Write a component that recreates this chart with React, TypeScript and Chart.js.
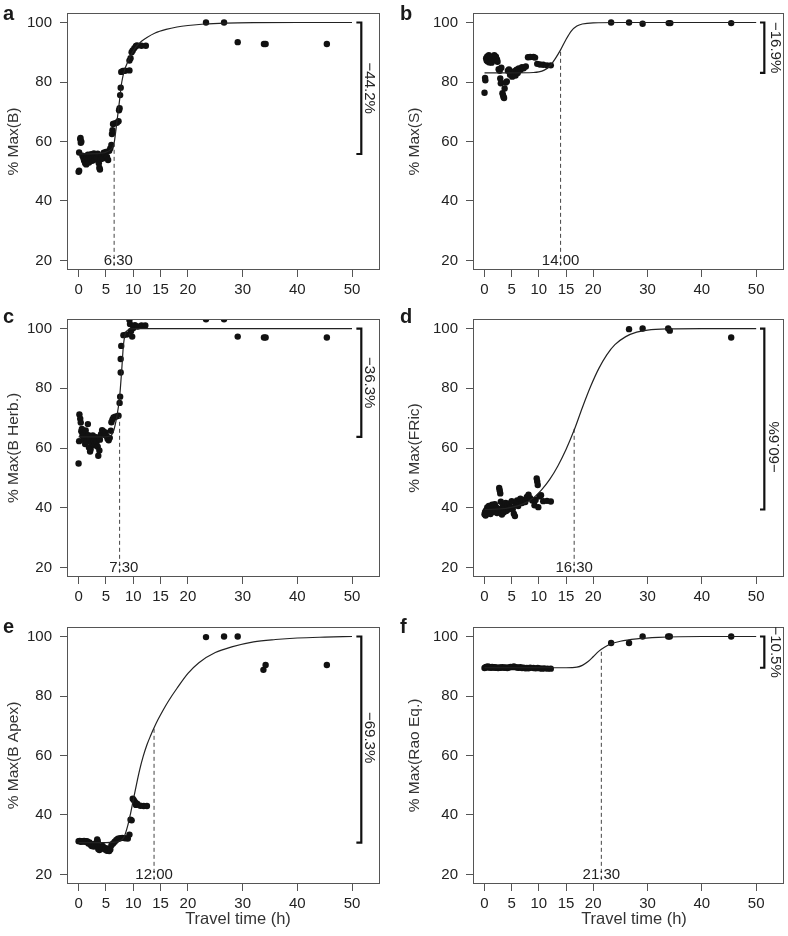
import React, { useEffect, useRef } from "react";
import { Chart, registerables } from "chart.js";

Chart.register(...registerables);

const FONT = "'Liberation Sans', Arial, Helvetica, sans-serif";

// ---- shared axis ticks ----
const xTicks = [0, 5, 10, 15, 20, 30, 40, 50];
const yTicks = [20, 40, 60, 80, 100];

// ---- panel a: % Max(B) ----
const aX = [0.0, 0.1, 0.1, 0.3, 0.35, 0.4, 0.5, 0.7, 0.9, 1.0, 1.1, 1.2, 1.3, 1.4, 1.5, 1.6, 1.7, 1.8, 1.9, 2.0, 2.2, 2.3, 2.5, 2.6, 2.8, 2.9, 3.0, 3.2, 3.3, 3.5, 3.7, 3.8, 3.9, 4.0, 4.2, 4.4, 4.6, 4.8, 5.0, 5.2, 5.4, 5.6, 5.8, 6.0, 6.1, 6.2, 6.3, 6.6, 7.0, 7.3, 7.4, 7.5, 7.6, 7.7, 7.8, 8.1, 8.5, 9.3, 9.3, 9.5, 9.7, 9.9, 10.2, 10.5, 10.7, 11.5, 12.3, 23.3, 26.6, 29.1, 33.9, 34.2, 45.4];
const aY = [49.8, 50.2, 56.3, 60.8, 61.2, 59.6, 59.9, 55.2, 54.4, 53.6, 55.0, 52.7, 53.9, 52.3, 54.8, 53.2, 55.6, 54.1, 52.9, 55.3, 54.0, 55.7, 53.5, 54.6, 56.0, 54.8, 53.9, 55.4, 54.6, 55.9, 52.7, 51.2, 50.6, 54.0, 55.2, 54.3, 56.2, 55.6, 56.5, 54.8, 53.8, 56.9, 57.7, 58.8, 62.5, 63.8, 65.9, 66.1, 66.3, 66.8, 70.5, 71.2, 75.6, 78.1, 83.4, 83.7, 83.8, 83.9, 87.2, 88.0, 90.0, 90.6, 91.4, 92.1, 92.3, 92.2, 92.2, 100, 100, 93.4, 92.8, 92.8, 92.8];
const aCurveX = [0, 4, 5.5, 6.2, 6.5, 6.8, 7.1, 7.5, 7.9, 8.4, 9, 9.7, 10.5, 11.5, 12.5, 14, 16, 18, 20, 23, 27, 32, 40, 50];
const aCurveY = [55.8, 56.0, 56.8, 58.0, 59.5, 63.5, 68.0, 74.0, 80.0, 84.0, 86.8, 89.5, 91.8, 93.7, 95.0, 96.5, 97.7, 98.5, 99.0, 99.5, 99.8, 99.95, 100, 100];

// ---- panel b: % Max(S) ----
const bX = [0.0, 0.1, 0.15, 0.3, 0.4, 0.5, 0.6, 0.7, 0.8, 0.9, 1.0, 1.1, 1.2, 1.3, 1.4, 1.6, 1.8, 1.9, 2.1, 2.3, 2.4, 2.6, 2.8, 2.9, 3.0, 3.1, 3.3, 3.4, 3.5, 3.6, 3.7, 3.9, 4.1, 4.3, 4.5, 4.7, 4.9, 5.1, 5.3, 5.5, 5.7, 5.9, 6.1, 6.3, 6.6, 6.9, 7.2, 7.6, 8.0, 8.4, 9.0, 9.3, 9.7, 10.2, 10.8, 11.5, 12.2, 23.3, 26.6, 29.1, 33.9, 34.2, 45.4];
const bY = [76.4, 81.4, 80.6, 88.0, 87.2, 88.6, 86.9, 87.8, 89.0, 86.6, 87.5, 88.4, 87.0, 86.5, 87.9, 88.2, 89.0, 87.3, 88.5, 87.6, 86.8, 84.3, 83.8, 81.2, 79.6, 84.8, 76.2, 75.6, 75.0, 74.6, 77.8, 79.8, 80.2, 83.8, 84.2, 82.4, 83.2, 81.8, 82.8, 83.6, 82.2, 84.1, 83.0, 84.6, 84.0, 85.0, 84.6, 85.2, 88.3, 88.4, 88.4, 88.2, 86.1, 85.9, 85.8, 85.6, 85.6, 100, 100, 99.6, 99.8, 99.8, 99.8];
const bCurveX = [0, 5, 9, 10, 11, 12, 13, 14, 15, 16, 17, 18, 20, 25, 50];
const bCurveY = [83.1, 83.1, 83.2, 83.4, 84.0, 85.3, 87.8, 90.8, 94.3, 97.2, 98.8, 99.5, 99.9, 100, 100];

// ---- panel c: % Max(B Herb.) ----
const cX = [0.0, 0.1, 0.15, 0.3, 0.4, 0.5, 0.6, 0.7, 0.8, 0.9, 1.0, 1.1, 1.2, 1.3, 1.4, 1.5, 1.7, 1.8, 1.9, 2.0, 2.1, 2.2, 2.4, 2.5, 2.6, 2.8, 2.9, 3.0, 3.2, 3.3, 3.5, 3.6, 3.8, 3.9, 4.1, 4.3, 4.5, 4.7, 4.9, 5.1, 5.3, 5.5, 5.7, 5.9, 6.0, 6.2, 6.4, 6.7, 7.0, 7.3, 7.5, 7.6, 7.7, 7.7, 7.8, 8.2, 8.8, 9.3, 9.4, 9.6, 9.8, 10.0, 10.3, 10.8, 11.5, 12.2, 23.3, 26.6, 29.1, 33.9, 34.2, 45.4];
const cY = [54.8, 62.3, 71.2, 69.8, 68.5, 65.6, 66.4, 64.2, 65.2, 63.0, 64.8, 62.6, 61.3, 65.9, 63.5, 62.1, 68.0, 64.3, 60.2, 62.9, 58.8, 59.6, 61.8, 63.4, 64.2, 62.3, 60.9, 61.5, 63.6, 62.0, 60.4, 57.4, 59.2, 62.8, 64.6, 66.0, 65.6, 64.4, 65.2, 64.0, 63.1, 62.6, 63.4, 65.8, 68.6, 69.6, 70.2, 70.5, 70.6, 70.8, 75.1, 77.2, 85.3, 89.8, 94.2, 97.8, 98.0, 102.9, 101.5, 99.2, 97.3, 100.2, 101.1, 100.7, 101.0, 101.0, 103.1, 103.1, 97.3, 97.0, 97.0, 97.0];
const cCurveX = [0, 4, 5.5, 6.3, 7.0, 7.5, 7.9, 8.2, 8.5, 9.0, 9.5, 10.5, 50];
const cCurveY = [63.7, 63.7, 63.9, 65.2, 70.6, 77.0, 86.5, 94.5, 98.0, 99.5, 99.9, 100, 100];

// ---- panel d: % Max(FRic) ----
const dX = [0.0, 0.1, 0.2, 0.3, 0.4, 0.5, 0.6, 0.7, 0.8, 0.9, 1.0, 1.1, 1.2, 1.3, 1.4, 1.5, 1.6, 1.8, 1.9, 2.0, 2.2, 2.3, 2.5, 2.7, 2.8, 2.9, 3.0, 3.1, 3.2, 3.4, 3.5, 3.7, 3.9, 4.0, 4.2, 4.4, 4.6, 4.8, 5.0, 5.2, 5.4, 5.6, 5.8, 6.0, 6.2, 6.4, 6.6, 6.9, 7.2, 7.5, 7.8, 8.1, 8.4, 8.8, 9.2, 9.4, 9.6, 9.7, 9.8, 9.9, 10.1, 10.4, 10.8, 11.5, 12.2, 26.6, 29.1, 33.8, 34.1, 45.4];
const dY = [37.8, 38.6, 37.4, 39.2, 38.0, 40.1, 38.8, 39.6, 40.6, 38.4, 39.8, 37.9, 40.2, 39.1, 41.0, 38.6, 40.4, 39.3, 41.2, 38.9, 40.0, 38.2, 39.7, 46.6, 45.8, 44.8, 42.0, 39.0, 37.7, 40.4, 38.4, 39.8, 41.6, 38.9, 40.8, 39.4, 41.4, 40.2, 42.2, 39.6, 38.0, 37.2, 41.0, 42.4, 40.6, 41.8, 43.0, 41.6, 42.6, 41.9, 43.6, 44.4, 43.2, 42.4, 40.8, 42.6, 49.8, 48.8, 47.6, 40.2, 43.8, 44.2, 42.2, 42.3, 42.1, 99.8, 100, 100, 99.3, 97.0];
const dCurveX = [0, 4, 7, 9, 10.5, 12, 13.5, 15, 16.5, 18, 19.5, 21, 22.5, 24, 26, 28, 30, 34, 40, 50];
const dCurveY = [39.4, 39.8, 41.2, 43.3, 46.0, 49.5, 54.0, 59.5, 66.0, 73.5, 80.5, 86.5, 91.2, 94.6, 97.3, 98.8, 99.5, 99.9, 100, 100];

// ---- panel e: % Max(B Apex) ----
const eX = [0.0, 0.2, 0.4, 0.6, 0.8, 1.0, 1.2, 1.4, 1.6, 1.8, 2.0, 2.2, 2.4, 2.6, 2.8, 3.0, 3.2, 3.4, 3.5, 3.6, 3.8, 4.0, 4.2, 4.4, 4.6, 4.8, 5.0, 5.2, 5.4, 5.6, 5.8, 6.0, 6.3, 6.6, 6.9, 7.2, 7.6, 8.0, 8.5, 9.0, 9.3, 9.5, 9.7, 9.9, 10.1, 10.3, 10.5, 10.7, 11.3, 11.9, 12.5, 23.3, 26.6, 29.1, 33.8, 34.2, 45.4];
const eY = [31.2, 31.3, 31.0, 31.2, 31.1, 31.3, 31.0, 31.2, 31.1, 30.4, 30.8, 30.0, 29.6, 30.2, 29.4, 29.8, 30.6, 31.8, 31.2, 28.6, 28.2, 29.4, 28.8, 29.6, 29.0, 28.4, 28.8, 28.0, 28.6, 27.9, 28.4, 29.8, 30.4, 31.0, 31.6, 32.0, 32.2, 32.3, 32.2, 32.1, 33.4, 38.4, 38.2, 45.5, 45.0, 44.4, 43.4, 43.8, 43.1, 43.0, 43.0, 99.8, 100, 100, 88.8, 90.4, 90.4];
const eCurveX = [0, 5, 7.5, 8.3, 9, 9.5, 10, 10.6, 11.2, 11.8, 12.5, 13.2, 13.8, 14.5, 15.5, 16.5, 18, 20, 22, 25, 28, 32, 36, 40, 45, 50];
const eCurveY = [30.7, 30.7, 31.2, 32.5, 36.5, 40.5, 45.0, 50.4, 55.4, 59.6, 63.6, 66.8, 69.3, 72.0, 75.4, 78.5, 82.6, 87.6, 91.2, 94.6, 96.5, 98.2, 99.0, 99.5, 99.8, 100];

// ---- panel f: % Max(Rao Eq.) ----
const fX = [0.0, 0.15, 0.3, 0.45, 0.6, 0.75, 0.9, 1.05, 1.2, 1.4, 1.6, 1.8, 2.0, 2.2, 2.5, 2.8, 3.0, 3.3, 3.6, 3.9, 4.2, 4.5, 4.8, 5.1, 5.4, 5.7, 6.0, 6.3, 6.6, 6.9, 7.2, 7.5, 7.8, 8.1, 8.4, 9.0, 9.4, 9.8, 10.2, 10.6, 11.0, 11.6, 12.2, 23.3, 26.6, 29.1, 33.8, 34.1, 45.4];
const fY = [89.4, 89.6, 89.8, 89.7, 89.9, 89.6, 89.8, 89.7, 89.5, 89.8, 89.6, 89.7, 89.5, 89.6, 89.4, 89.6, 89.5, 89.7, 89.5, 89.6, 89.4, 89.6, 89.8, 89.7, 89.9, 89.7, 89.6, 89.5, 89.7, 89.4, 89.5, 89.3, 89.4, 89.3, 89.5, 89.4, 89.3, 89.4, 89.3, 89.2, 89.3, 89.2, 89.2, 97.8, 97.8, 100, 100, 100, 100];
const fCurveX = [0, 15, 17, 18, 19, 20, 21, 22, 23, 25, 28, 32, 40, 50];
const fCurveY = [89.5, 89.5, 89.7, 90.3, 91.5, 93.2, 95.0, 96.3, 97.3, 98.4, 99.2, 99.7, 100, 100];

// ---- per-panel annotations ----
const panelLetters = ["a", "b", "c", "d", "e", "f"];
const yTitles = ["% Max(B)", "% Max(S)", "% Max(B Herb.)", "% Max(FRic)", "% Max(B Apex)", "% Max(Rao Eq.)"];
const breakTimes = [6.5, 14, 7.5, 16.5, 13.8, 21.5];
const breakLabels = ["6:30", "14:00", "7:30", "16:30", "12:00", "21:30"];
const breakTops = [59, 90.3, 70.3, 66.9, 69.2, 95.9];
const dropPct = [44.2, 16.9, 36.3, 60.6, 69.3, 10.5];
const dropLabels = ["\u221244.2%", "\u221216.9%", "\u221236.3%", "\u221260.6%", "\u221269.3%", "\u221210.5%"];
const dropLabelCenters = [77.9, 91.55, 81.85, 60.3, 66.0, 94.75];
const xTitle = "Travel time (h)";

const pointSets = [
  [aX, aY], [bX, bY], [cX, cY], [dX, dY], [eX, eY], [fX, fY],
];
const curveSets = [
  [aCurveX, aCurveY], [bCurveX, bCurveY], [cCurveX, cCurveY],
  [dCurveX, dCurveY], [eCurveX, eCurveY], [fCurveX, fCurveY],
];

// ---- layout (page pixels) ----
const COLS = [
  { left: 0, width: 394, boxL: 67, boxR: 380, titleX: 14, letterX: 3, brX1: 51.7, brX0: 50.8, pctX: 53.1, xTitleX: 238 },
  { left: 394, width: 394, boxL: 473, boxR: 786, titleX: 21, letterX: 6, brX1: 51.5, brX0: 50.7, pctX: 53.4, xTitleX: 240 },
];
const ROWS = [
  { top: 0, height: 300, boxT: 13, boxB: 270, letterY: 20 },
  { top: 300, height: 310, boxT: 319, boxB: 577, letterY: 23 },
  { top: 610, height: 326, boxT: 627, boxB: 884, letterY: 23 },
];

const decorPlugin = {
  id: "decor",
  afterDraw(chart: any, _args: any, opts: any) {
    const i: number = opts.idx;
    const col = COLS[i % 2];
    const row = ROWS[Math.floor(i / 2)];
    const { ctx, chartArea: ca } = chart;
    const xs = chart.scales.x;
    const ys = chart.scales.y;
    ctx.save();
    // box
    ctx.strokeStyle = "#555";
    ctx.lineWidth = 1;
    ctx.strokeRect(Math.round(ca.left) + 0.5, Math.round(ca.top) + 0.5,
      Math.round(ca.right - ca.left) - 1, Math.round(ca.bottom - ca.top) - 1);

    ctx.fillStyle = "#1a1a1a";
    // panel letter
    ctx.font = `bold 20px ${FONT}`;
    ctx.textAlign = "left";
    ctx.textBaseline = "alphabetic";
    ctx.fillText(panelLetters[i], col.letterX, row.letterY);

    // y title
    ctx.font = `15.5px ${FONT}`;
    ctx.save();
    ctx.translate(col.titleX, (ca.top + ca.bottom) / 2);
    ctx.rotate(-Math.PI / 2);
    ctx.textAlign = "center";
    ctx.textBaseline = "middle";
    ctx.fillStyle = "#333";
    ctx.fillText(yTitles[i], 0, 0);
    ctx.restore();

    // x title on bottom row
    if (Math.floor(i / 2) === 2) {
      ctx.save();
      ctx.font = `16.5px ${FONT}`;
      ctx.textAlign = "center";
      ctx.textBaseline = "middle";
      ctx.fillStyle = "#333";
      ctx.fillText(xTitle, col.xTitleX, ca.bottom + 35);
      ctx.restore();
    }

    // break label (colon aligned with dashed line)
    ctx.font = `15px ${FONT}`;
    const label = breakLabels[i];
    const px = xs.getPixelForValue(breakTimes[i]);
    const py = ys.getPixelForValue(20);
    const pre = label.split(":")[0];
    const w1 = ctx.measureText(pre).width;
    const wc = ctx.measureText(":").width;
    ctx.textAlign = "left";
    ctx.textBaseline = "middle";
    ctx.fillStyle = "#222";
    ctx.fillText(label, px - w1 - wc / 2, py);

    // drop percentage label
    const tx = xs.getPixelForValue(col.pctX);
    const ty = ys.getPixelForValue(dropLabelCenters[i]);
    ctx.save();
    ctx.translate(tx, ty);
    ctx.rotate(i === 3 ? -Math.PI / 2 : Math.PI / 2);
    ctx.textAlign = "center";
    ctx.textBaseline = "middle";
    ctx.fillText(dropLabels[i], 0, 0);
    ctx.restore();

    ctx.restore();
  },
};

function Panel({ idx }: { idx: number }) {
  const ref = useRef<HTMLCanvasElement | null>(null);
  const col = COLS[idx % 2];
  const row = ROWS[Math.floor(idx / 2)];

  useEffect(() => {
    if (!ref.current) return;
    const [px, py] = pointSets[idx];
    const [cx, cy] = curveSets[idx];
    const pts = px.map((x, k) => ({ x, y: py[k] }));
    const curve = cx.map((x, k) => ({ x, y: cy[k] }));
    const t = breakTimes[idx];
    const dashed = [{ x: t, y: 18.2 }, { x: t, y: breakTops[idx] }];
    const low = 100 - dropPct[idx];
    const bracket = [
      { x: col.brX0, y: 100 }, { x: col.brX1, y: 100 },
      { x: col.brX1, y: low }, { x: col.brX0, y: low },
    ];
    const yAxisW = col.boxL - col.left;
    const padRight = col.left + col.width - col.boxR;
    const padTop = row.boxT - row.top;
    const xAxisH = row.top + row.height - row.boxB;

    const chart = new Chart(ref.current, {
      type: "scatter",
      data: {
        datasets: [
          {
            data: curve, showLine: true, borderColor: "#222", borderWidth: 1.2,
            pointRadius: 0, cubicInterpolationMode: "monotone", fill: false,
          },
          {
            data: dashed, showLine: true, borderColor: "#444", borderWidth: 1,
            borderDash: [4, 3], pointRadius: 0, fill: false,
          },
          {
            data: bracket, showLine: true, borderColor: "#111", borderWidth: 2.2,
            pointRadius: 0, fill: false, clip: false,
          },
          {
            data: pts, pointRadius: 3.2, pointBackgroundColor: "#111",
            pointBorderWidth: 0, showLine: false,
          },
        ],
      } as any,
      options: {
        responsive: false,
        animation: false,
        devicePixelRatio: 1,
        events: [],
        layout: { padding: { left: 0, top: padTop, right: padRight, bottom: 0 } },
        plugins: {
          legend: { display: false },
          tooltip: { enabled: false },
          decor: { idx },
        } as any,
        scales: {
          x: {
            type: "linear",
            min: -2.12,
            max: 55.12,
            afterBuildTicks: (s: any) => { s.ticks = xTicks.map((v) => ({ value: v })); },
            afterFit: (s: any) => {
              s.height = xAxisH;
              s.paddingLeft = 0; s.paddingRight = 0; s.paddingTop = 0; s.paddingBottom = 0;
            },
            grid: { drawOnChartArea: false, drawTicks: true, tickLength: 7, color: "#555", lineWidth: 1 },
            border: { display: false },
            ticks: {
              font: { family: FONT, size: 15 }, color: "#222", padding: 4,
              maxRotation: 0, minRotation: 0, autoSkip: false,
            },
          },
          y: {
            type: "linear",
            min: 16.8,
            max: 103.2,
            afterBuildTicks: (s: any) => { s.ticks = yTicks.map((v) => ({ value: v })); },
            afterFit: (s: any) => {
              s.width = yAxisW;
              s.paddingLeft = 0; s.paddingRight = 0; s.paddingTop = 0; s.paddingBottom = 0;
            },
            grid: { drawOnChartArea: false, drawTicks: true, tickLength: 7, color: "#555", lineWidth: 1 },
            border: { display: false },
            ticks: { font: { family: FONT, size: 15 }, color: "#222", padding: 8, autoSkip: false },
          },
        },
      } as any,
      plugins: [decorPlugin],
    });
    return () => chart.destroy();
  }, [idx]);

  return (
    <canvas
      ref={ref}
      width={col.width}
      height={row.height}
      style={{ position: "absolute", left: col.left, top: row.top, width: col.width, height: row.height }}
    />
  );
}

export default function App() {
  useEffect(() => {
    document.body.style.margin = "0";
  }, []);
  return (
    <div style={{ position: "absolute", left: 0, top: 0, width: 788, height: 936, background: "#fff", overflow: "hidden" }}>
      {[0, 1, 2, 3, 4, 5].map((i) => (
        <Panel key={i} idx={i} />
      ))}
    </div>
  );
}
